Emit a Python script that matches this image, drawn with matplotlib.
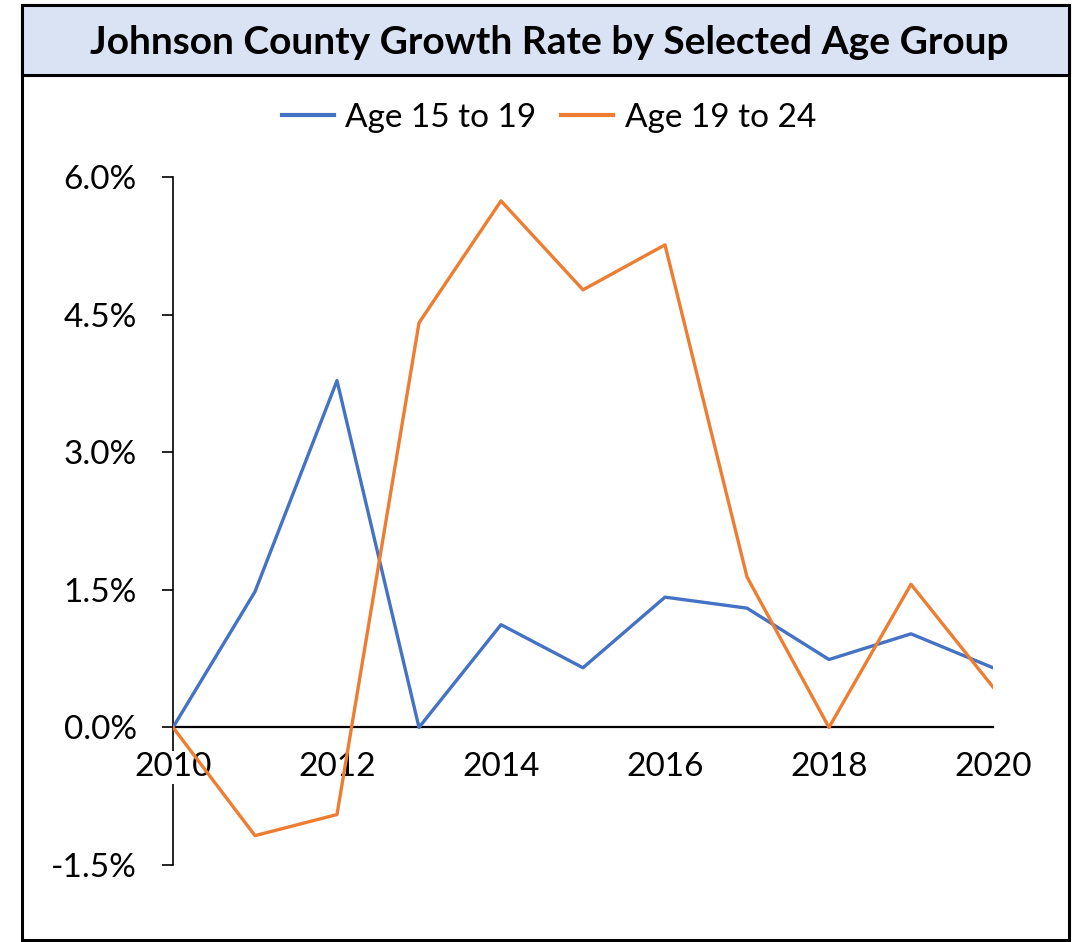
import matplotlib.pyplot as plt
from matplotlib.patches import Rectangle
from matplotlib.ticker import FuncFormatter

plt.rcParams["font.family"] = ["Lato", "DejaVu Sans"]

years = [2010, 2011, 2012, 2013, 2014, 2015, 2016, 2017, 2018, 2019, 2020]
age_15_19 = [0.0, 1.48, 3.78, 0.0, 1.12, 0.65, 1.42, 1.30, 0.74, 1.02, 0.65]
age_19_24 = [0.0, -1.18, -0.95, 4.41, 5.74, 4.77, 5.26, 1.64, 0.0, 1.56, 0.44]
y_ticks = [-1.5, 0.0, 1.5, 3.0, 4.5, 6.0]
x_ticks = [2010, 2012, 2014, 2016, 2018, 2020]

W, H = 1076, 942
fig = plt.figure(figsize=(W / 100, H / 100), dpi=100)

# outer frame and title band
fig.patches.append(Rectangle((22 / W, 1 - 940 / H), (1069 - 22) / W, (940 - 5) / H,
                             transform=fig.transFigure, facecolor="white",
                             edgecolor="black", lw=2.2, zorder=-2))
fig.patches.append(Rectangle((22 / W, 1 - 75 / H), (1069 - 22) / W, (75 - 5) / H,
                             transform=fig.transFigure, facecolor="#DAE3F3",
                             edgecolor="black", lw=2.2, zorder=-1))
fig.text(549 / W, 1 - 42 / H, "Johnson County Growth Rate by Selected Age Group",
         ha="center", va="center", fontsize=28, fontweight="bold")

ax = fig.add_axes([173 / W, 1 - 865 / H, (993 - 173) / W, (865 - 177) / H])
ax.set_zorder(2)
ax.patch.set_alpha(0)

ax.plot(years, age_15_19, color="#4472C4", lw=2.4, label="Age 15 to 19", zorder=6)
ax.plot(years, age_19_24, color="#ED7D31", lw=2.4, label="Age 19 to 24", zorder=6)

ax.set_xlim(2010, 2020)
ax.set_ylim(-1.5, 6.0)
ax.set_yticks(y_ticks)
ax.set_xticks(x_ticks)
ax.yaxis.set_major_formatter(FuncFormatter(lambda v, p: f"{v:.1f}%"))

for s in ["top", "right"]:
    ax.spines[s].set_visible(False)
ax.spines["bottom"].set_position(("data", 0))
ax.spines["bottom"].set_linewidth(1.6)
ax.spines["left"].set_linewidth(1.2)

ax.tick_params(axis="y", direction="out", length=8, width=1.2, pad=18, labelsize=24)
ax.tick_params(axis="x", length=0, pad=18, labelsize=24)
for lab in ax.get_xticklabels():
    lab.set_bbox(dict(facecolor="white", edgecolor="none", pad=1))
ax.xaxis.set_zorder(5)

leg = ax.legend(loc="center", bbox_to_anchor=(549 / W, 1 - 118 / H),
                bbox_transform=fig.transFigure, ncol=2, frameon=False, fontsize=24,
                handlelength=1.55, handletextpad=0.35, columnspacing=0.75)
for h in leg.get_lines():
    h.set_linewidth(3)

fig.savefig("out.png", dpi=100)
